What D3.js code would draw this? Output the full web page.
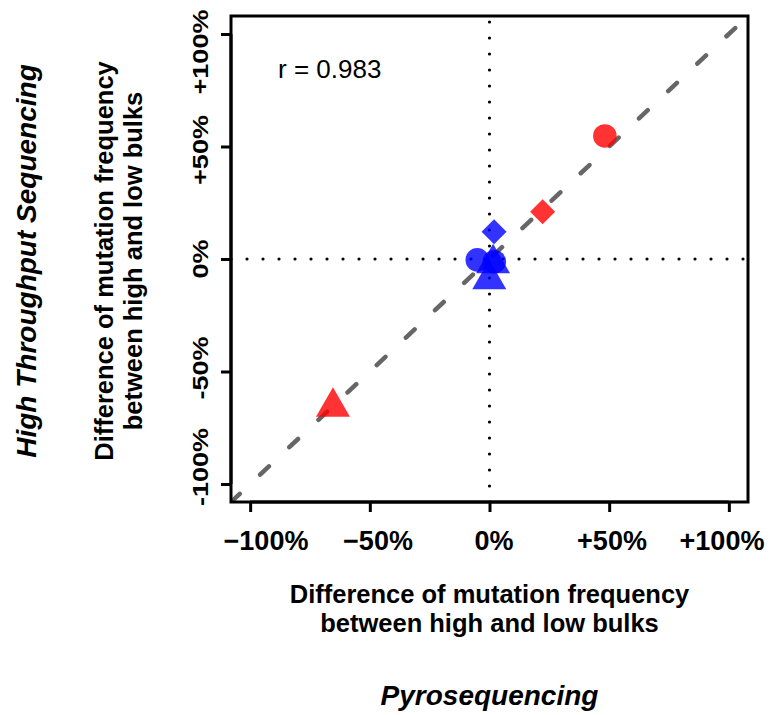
<!DOCTYPE html>
<html>
<head>
<meta charset="utf-8">
<script src="https://cdn.jsdelivr.net/npm/d3@7/dist/d3.min.js"></script>
<style>
  html, body { margin: 0; padding: 0; background: #fff; }
  svg { display: block; font-family: "Liberation Sans", Arial, Helvetica, sans-serif; }
</style>
</head>
<body>
<svg id="chart" width="771" height="715"></svg>
<script>
// Difference of mutation frequency (high vs low bulks), % — pyrosequencing vs HTS
const pyroseq = [48.2, 22.2, -65.4, -5.1, 2.0, 1.9, 1.5, -0.1];
const hts     = [54.7, 21.0, -65.7, -0.4, -1.2, 12.1, -2.0, -9.1];
const shapes  = ["circle", "diamond", "triangle", "circle", "circle", "diamond", "triangle", "triangle"];
const groups  = ["changed", "changed", "changed", "stable", "stable", "stable", "stable", "stable"];

const tickValues = [-100, -50, 0, 50, 100];
const xTickLabels = ["\u2212100%", "\u221250%", "0%", "+50%", "+100%"];
const yTickLabels = ["-100%", "-50%", "0%", "+50%", "+100%"];
const correlationLabel = "r = 0.983";

const groupColor = { changed: "#ff0000", stable: "#0000ff" };

const svg = d3.select("#chart");
const box = { left: 231, right: 748, top: 16, bottom: 502 };
const lim = 108;

const x = d3.scaleLinear().domain([-lim, lim]).range([box.left, box.right]);
const y = d3.scaleLinear().domain([-lim, lim]).range([box.bottom, box.top]);

// tick labels sit slightly pulled in toward the centre of each axis
const xLabelPos = d3.scaleLinear().domain(tickValues).range([266, 378, 494, 612, 722]);
const yLabelPos = d3.scaleLinear().domain(tickValues).range([467, 368, 259, 150, 52]);

svg.append("defs").append("clipPath").attr("id", "plotClip")
  .append("rect")
  .attr("x", box.left).attr("y", box.top)
  .attr("width", box.right - box.left).attr("height", box.bottom - box.top);

const plot = svg.append("g").attr("clip-path", "url(#plotClip)");

// dotted reference lines at zero
plot.append("line")
  .attr("x1", x(-lim)).attr("x2", x(lim)).attr("y1", y(0)).attr("y2", y(0))
  .attr("stroke", "#000").attr("stroke-width", 3.2)
  .attr("stroke-linecap", "round").attr("stroke-dasharray", "0,16");
plot.append("line")
  .attr("x1", x(0)).attr("x2", x(0)).attr("y1", y(-lim)).attr("y2", y(lim))
  .attr("stroke", "#000").attr("stroke-width", 3.2)
  .attr("stroke-linecap", "round").attr("stroke-dasharray", "0,16");

// identity line
plot.append("line")
  .attr("x1", x(-lim)).attr("y1", y(-lim)).attr("x2", x(lim)).attr("y2", y(lim))
  .attr("stroke", "#666").attr("stroke-width", 4.5)
  .attr("stroke-linecap", "round").attr("stroke-dasharray", "12,28");

// marker shapes
function markerPath(shape) {
  if (shape === "circle") {
    return d3.symbol().type(d3.symbolCircle).size(Math.PI * 11.8 * 11.8)();
  }
  if (shape === "diamond") {
    const h = 12.5;
    return `M0,${-h}L${h},0L0,${h}L${-h},0Z`;
  }
  // equilateral triangle centred on its centroid, width 34
  const s = 34, R = s / Math.sqrt(3);
  return `M0,${-R}L${s / 2},${R / 2}L${-s / 2},${R / 2}Z`;
}

const points = pyroseq.map((v, i) => ({ px: v, hy: hts[i], shape: shapes[i], group: groups[i] }));

plot.selectAll("path.pt")
  .data(points)
  .join("path")
  .attr("class", "pt")
  .attr("d", d => markerPath(d.shape))
  .attr("transform", d => `translate(${x(d.px)},${y(d.hy)})`)
  .attr("fill", d => groupColor[d.group])
  .attr("fill-opacity", 0.8);

// axes (ticks only; labels placed below)
const xAxis = d3.axisBottom(x).tickValues(tickValues).tickSize(10).tickFormat("");
const gx = svg.append("g").attr("transform", `translate(0,${box.bottom})`).call(xAxis);
gx.select(".domain").attr("d", `M${x(-100)},0H${x(100)}`).attr("stroke-width", 3);
gx.selectAll(".tick line").attr("stroke-width", 3);

const yAxis = d3.axisLeft(y).tickValues(tickValues).tickSize(10).tickFormat("");
const gy = svg.append("g").attr("transform", `translate(${box.left},0)`).call(yAxis);
gy.select(".domain").attr("d", `M0,${y(-100)}V${y(100)}`).attr("stroke-width", 3);
gy.selectAll(".tick line").attr("stroke-width", 3);

svg.append("g").selectAll("text")
  .data(tickValues)
  .join("text")
  .attr("x", d => xLabelPos(d)).attr("y", 550)
  .attr("text-anchor", "middle")
  .attr("font-size", 27).attr("font-weight", "bold").attr("fill", "#000")
  .text((d, i) => xTickLabels[i]);

svg.append("g").selectAll("text")
  .data(tickValues)
  .join("text")
  .attr("transform", d => `translate(208,${yLabelPos(d)}) rotate(-90) scale(1,0.8)`)
  .attr("text-anchor", "middle")
  .attr("font-size", 27).attr("font-weight", "bold").attr("fill", "#000")
  .text((d, i) => yTickLabels[i]);

// plot frame
svg.append("rect")
  .attr("x", box.left).attr("y", box.top)
  .attr("width", box.right - box.left).attr("height", box.bottom - box.top)
  .attr("fill", "none").attr("stroke", "#000").attr("stroke-width", 3);

// correlation annotation
svg.append("text")
  .attr("x", 278).attr("y", 78)
  .attr("font-size", 26).attr("fill", "#000")
  .text(correlationLabel);

// x axis titles
const cx = (box.left + box.right) / 2;
const xTitle = svg.append("text")
  .attr("text-anchor", "middle").attr("font-size", 25.5).attr("font-weight", "bold");
xTitle.append("tspan").attr("x", cx).attr("y", 603).text("Difference of mutation frequency");
xTitle.append("tspan").attr("x", cx).attr("y", 632).text("between high and low bulks");

svg.append("text")
  .attr("x", cx).attr("y", 705)
  .attr("text-anchor", "middle").attr("font-size", 28)
  .attr("font-weight", "bold").attr("font-style", "italic")
  .text("Pyrosequencing");

// y axis titles
const cy = 261;
const yTitle = svg.append("text")
  .attr("text-anchor", "middle").attr("font-size", 25.5).attr("font-weight", "bold")
  .attr("transform", `translate(0,${cy}) rotate(-90)`);
yTitle.append("tspan").attr("x", 0).attr("y", 113).text("Difference of mutation frequency");
yTitle.append("tspan").attr("x", 0).attr("y", 142).text("between high and low bulks");

svg.append("text")
  .attr("transform", `translate(36,${cy}) rotate(-90)`)
  .attr("text-anchor", "middle").attr("font-size", 28)
  .attr("font-weight", "bold").attr("font-style", "italic")
  .text("High Throughput Sequencing");
</script>
</body>
</html>
